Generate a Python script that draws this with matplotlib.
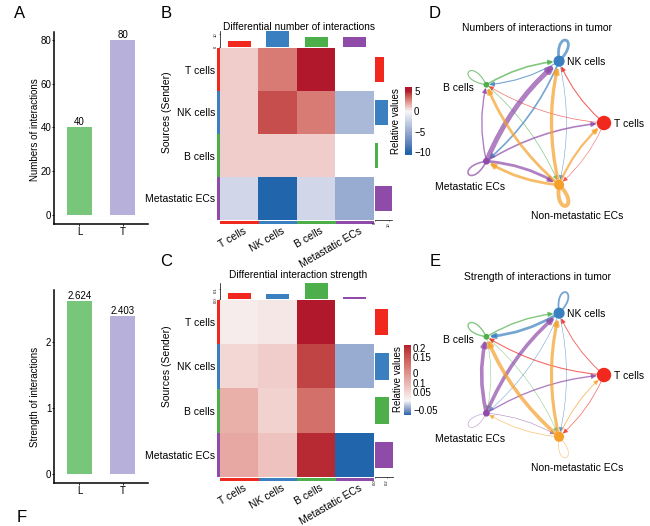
import numpy as np
import matplotlib
matplotlib.use("Agg")
import matplotlib.pyplot as plt
from matplotlib.colors import ListedColormap, TwoSlopeNorm, to_rgb
from matplotlib.patches import FancyArrowPatch, Circle, PathPatch, Rectangle
from matplotlib.path import Path

plt.rcParams['font.family'] = ['Liberation Sans', 'DejaVu Sans']

# ---------------- data ----------------
groups = ['L', 'T']
num_interactions = [40, 80]
strength_interactions = [2.624, 2.403]

cell_types = ['T cells', 'NK cells', 'B cells', 'Metastatic ECs']
nan = np.nan
diff_num = np.array([[1, 3, 5, nan],
                     [1, 4, 3, -4],
                     [1, 1, 1, nan],
                     [-2, -10, -2, -5]])
diff_strength = np.array([[0.01, 0.015, 0.2, nan],
                          [0.03, 0.04, 0.17, -0.025],
                          [0.07, 0.035, 0.13, nan],
                          [0.075, 0.05, 0.19, -0.05]])
top_num = [4.5, 12, 7.5, 7.5]
right_num = [6, 9, 2.3, 12]
top_str = [0.06, 0.05, 0.16, 0.025]
right_str = [0.21, 0.23, 0.23, 0.30]
cbar_num_ticks = [5, 0, -5, -10]
cbar_num_labels = ['5', '0', '\u22125', '\u221210']
cbar_str_ticks = [0.19, 0.157, 0.10, 0.064, 0.032, -0.032]
cbar_str_labels = ['0.2', '0.15', '0', '0.1', '0.05', '\u22120.05']

net_nodes = ['T cells', 'NK cells', 'B cells', 'Metastatic ECs', 'Non-metastatic ECs']
node_cells = [100, 56, 11, 17, 44]
# rows = source, cols = target
net_count = np.array([[0, 2, 1.2, 0, 1],
                      [0, 5, 2, 3, 1],
                      [0, 3, 2, 0, 1.2],
                      [3, 9, 2.5, 3, 5],
                      [4, 6, 5, 5, 7]])
net_strength = np.array([[0, 1, 1.2, 0, 0.8],
                         [0, 2, 3, 0.6, 0.6],
                         [0, 1.5, 1.5, 0.5, 0.5],
                         [1.5, 4, 4, 0.5, 0.6],
                         [1, 3.5, 4, 0.7, 0.6]])

# ---------------- style ----------------
bar_colors = ['#78C679', '#B6B0DA']
ct_colors = ['#F0281E', '#3A80C0', '#4DAF4A', '#8E4BA8', '#F5A02A']


def _srgb_to_lab(c):
    c = np.asarray(c, float)
    lin = np.where(c <= 0.04045, c / 12.92, ((c + 0.055) / 1.055) ** 2.4)
    M = np.array([[0.4124, 0.3576, 0.1805], [0.2126, 0.7152, 0.0722], [0.0193, 0.1192, 0.9505]])
    xyz = M @ lin / np.array([0.95047, 1.0, 1.08883])
    f = np.where(xyz > 0.008856, np.cbrt(xyz), 7.787 * xyz + 16 / 116)
    return np.array([116 * f[1] - 16, 500 * (f[0] - f[1]), 200 * (f[1] - f[2])])


def _lab_to_srgb(lab):
    L, a, b = lab
    fy = (L + 16) / 116
    fx, fz = fy + a / 500, fy - b / 200
    f = np.array([fx, fy, fz])
    xyz = np.where(f ** 3 > 0.008856, f ** 3, (f - 16 / 116) / 7.787) * np.array([0.95047, 1.0, 1.08883])
    Mi = np.array([[3.2406, -1.5372, -0.4986], [-0.9689, 1.8758, 0.0415], [0.0557, -0.2040, 1.0570]])
    lin = Mi @ xyz
    c = np.where(lin <= 0.0031308, 12.92 * lin, 1.055 * np.clip(lin, 0, None) ** (1 / 2.4) - 0.055)
    return np.clip(c, 0, 1)


def lab_cmap(cols, n=256):
    labs = [_srgb_to_lab(to_rgb(c)) for c in cols]
    out = []
    for t in np.linspace(0, 1, n):
        s = t * (len(labs) - 1)
        k = min(int(s), len(labs) - 2)
        u = s - k
        out.append(_lab_to_srgb(labs[k] * (1 - u) + labs[k + 1] * u))
    return ListedColormap(out)


cmap = lab_cmap(['#2166AC', '#F7F7F7', '#B2182B'])
cmap.set_bad('white')

W, H = 650, 526
fig = plt.figure(figsize=(6.5, 5.26), dpi=100)


def px_axes(x0, y0, x1, y1):
    return fig.add_axes([x0 / W, 1 - y1 / H, (x1 - x0) / W, (y1 - y0) / H])


def px_text(x, y, s, **kw):
    fig.text(x / W, 1 - y / H, s, **kw)


# ---------------- bar charts ----------------
def barpanel(box, vals, ylim, yticks, ylabel, ylabel_y, fmt):
    ax = px_axes(*box)
    ax.bar(range(len(groups)), vals, width=0.6, color=bar_colors)
    ax.set_xlim(-0.59, 1.59)
    ax.set_ylim(*ylim)
    ax.set_yticks(yticks)
    ax.set_xticks(range(len(groups)), groups)
    for s in ['top', 'right']:
        ax.spines[s].set_visible(False)
    for s in ['left', 'bottom']:
        ax.spines[s].set_linewidth(1.1)
    ax.tick_params(labelsize=7, length=1.5, width=0.6, pad=0.5)
    for i, v in enumerate(vals):
        ax.text(i, v, fmt(v), ha='center', va='bottom', fontsize=7)
    px_text(35, ylabel_y, ylabel, rotation=90, ha='center', va='center', fontsize=7)
    return ax


barpanel((54, 32, 148, 224), num_interactions, (-4.1, 83.6), [0, 20, 40, 60, 80],
         'Numbers of interactions', 130, lambda v: f'{v:d}')
barpanel((54, 290, 148, 483), strength_interactions, (-0.136, 2.79), [0, 1, 2],
         'Strength of interactions', 397, lambda v: f'{v:.3f}')


# ---------------- heatmaps ----------------
def heatmap(hbox, data, vmin, vmax, title, title_xy, ylab_y,
            topbox, top_vals, top_lim, top_ticks,
            rightbox, right_vals, right_lim, right_ticks,
            cbox, c_ext, c_ticks, c_labels, clab_xy):
    norm = TwoSlopeNorm(vmin=vmin, vcenter=0, vmax=vmax)
    ax = px_axes(*hbox)
    n = len(cell_types)
    ax.imshow(np.ma.masked_invalid(data), cmap=cmap, norm=norm, aspect='auto',
              extent=(0, n, n, 0), interpolation='nearest')
    ax.set_xlim(0, n)
    ax.set_ylim(n, 0)
    for s in ax.spines.values():
        s.set_visible(False)
    ax.set_xticks([])
    ax.set_yticks(np.arange(n) + 0.5, cell_types)
    ax.tick_params(axis='y', length=0, pad=3.5, labelsize=7.5)
    for i in range(n):
        ax.add_patch(Rectangle((-0.07, i), 0.065, 1, color=ct_colors[i], clip_on=False, lw=0))
        ax.add_patch(Rectangle((i, n + 0.02), 1, 0.07, color=ct_colors[i], clip_on=False, lw=0))
        ax.text(i + 0.6, n + 0.13, cell_types[i], rotation=30, ha='right', va='top',
                rotation_mode='anchor', fontsize=7.5)
    px_text(*title_xy, title, ha='center', va='center', fontsize=7.3)
    px_text(167, ylab_y, 'Sources (Sender)', rotation=90, ha='center', va='center', fontsize=7.5)

    tax = px_axes(*topbox)
    tax.bar(np.arange(n) + 0.5, top_vals, width=0.6, color=ct_colors[:n])
    tax.set_xlim(0, n)
    tax.set_ylim(0, top_lim)
    for s in ['top', 'right', 'bottom']:
        tax.spines[s].set_visible(False)
    tax.spines['left'].set_linewidth(0.5)
    tax.set_xticks([])
    tax.set_yticks(top_ticks)
    tax.tick_params(axis='y', labelsize=3, length=1, width=0.4, pad=0.5, labelrotation=90)

    rax = px_axes(*rightbox)
    rax.barh(np.arange(n) + 0.5, right_vals, height=0.6, color=ct_colors[:n])
    rax.set_ylim(n, 0)
    rax.set_xlim(0, right_lim)
    for s in ['top', 'right', 'left']:
        rax.spines[s].set_visible(False)
    rax.spines['bottom'].set_linewidth(0.5)
    rax.set_yticks([])
    rax.set_xticks(right_ticks)
    rax.tick_params(axis='x', labelsize=3, length=1, width=0.4, pad=0.5, labelrotation=90)

    cax = px_axes(*cbox)
    grad = np.linspace(c_ext[1], c_ext[0], 256)[:, None]
    cax.imshow(grad, cmap=cmap, norm=norm, aspect='auto', extent=(0, 1, c_ext[0], c_ext[1]))
    cax.set_xticks([])
    cax.yaxis.tick_right()
    cax.set_yticks(c_ticks, c_labels)
    cax.tick_params(axis='y', length=0, pad=1.5, labelsize=7)
    for s in cax.spines.values():
        s.set_visible(False)
    px_text(*clab_xy, 'Relative values', rotation=90, ha='center', va='center', fontsize=7)


heatmap((220, 48, 374, 220), diff_num, -10, 5, 'Differential number of interactions', (299, 27), 112,
        (220, 31, 374, 47), top_num, 12, [0, 10],
        (375, 48, 392, 220), right_num, 12, [0, 10],
        (405, 87, 412, 155), (-10.7, 6.0), cbar_num_ticks, cbar_num_labels, (396, 121))
heatmap((220, 300, 374, 477), diff_strength, -0.05, 0.2, 'Differential interaction strength', (298, 275), 366,
        (220, 283, 374, 299), top_str, 0.16, [0, 0.1],
        (375, 300, 393, 477), right_str, 0.30, [0, 0.2],
        (404, 345, 411, 415), (-0.05, 0.2), cbar_str_ticks, cbar_str_labels, (398, 379))


# ---------------- networks ----------------
label_offsets = [(10, 1, 'left'), (8, 1, 'left'), (-13, 3, 'right'), (-16, 26, 'center'), (18, 31, 'center')]


def network(box, cx, cy, r, weights, lwmax, title, title_xy):
    ax = px_axes(*box)
    ax.set_xlim(box[0], box[2])
    ax.set_ylim(box[3], box[1])
    ax.axis('off')
    n = len(net_nodes)
    ang = np.deg2rad(np.arange(n) * 360 / n)
    pos = np.c_[cx + r * np.cos(ang), cy - r * np.sin(ang)]
    cells = np.array(node_cells, float)
    rad = 6.5 * np.sqrt(cells / cells.max())
    wmax = weights.max()
    for i in range(n):
        for j in range(n):
            w = weights[i, j]
            if w <= 0:
                continue
            lw = max(w / wmax * lwmax, 0.35)
            if i == j:
                th = ang[i]
                L, phi = 33, np.deg2rad(27)
                p0 = pos[i]
                p1 = p0 + L * np.array([np.cos(th + phi), -np.sin(th + phi)])
                p2 = p0 + L * np.array([np.cos(th - phi), -np.sin(th - phi)])
                path = Path([p0, p1, p2, p0], [Path.MOVETO, Path.CURVE4, Path.CURVE4, Path.CURVE4])
                ax.add_patch(PathPatch(path, fill=False, lw=lw, edgecolor=ct_colors[i], alpha=0.7))
            else:
                arr = FancyArrowPatch(pos[i], pos[j], connectionstyle='arc3,rad=-0.12',
                                      arrowstyle='-|>', mutation_scale=7, lw=lw,
                                      color=ct_colors[i], alpha=0.7,
                                      shrinkA=rad[i] * 0.72, shrinkB=rad[j] * 0.72 + 0.5)
                ax.add_patch(arr)
    for i in range(n):
        ax.add_patch(Circle(pos[i], rad[i], color=ct_colors[i], zorder=5))
        dx, dy, ha = label_offsets[i]
        ax.text(pos[i, 0] + dx, pos[i, 1] + dy, net_nodes[i], ha=ha, va='center', fontsize=7.5, zorder=6)
    px_text(*title_xy, title, ha='center', va='center', fontsize=7.5)


network((420, 15, 650, 245), 539, 123, 65, net_count, 3.6, 'Numbers of interactions in tumor', (537, 28))
network((420, 265, 650, 495), 539, 375, 65, net_strength, 2.6, 'Strength of interactions in tumor', (537, 277))

# ---------------- panel letters ----------------
for letter, x, y in [('A', 20, 13), ('B', 166, 13), ('C', 166, 262), ('D', 435, 13),
                     ('E', 435, 262), ('F', 22, 517)]:
    px_text(x, y, letter, ha='center', va='center', fontsize=12)

fig.savefig('out.png', dpi=100)
